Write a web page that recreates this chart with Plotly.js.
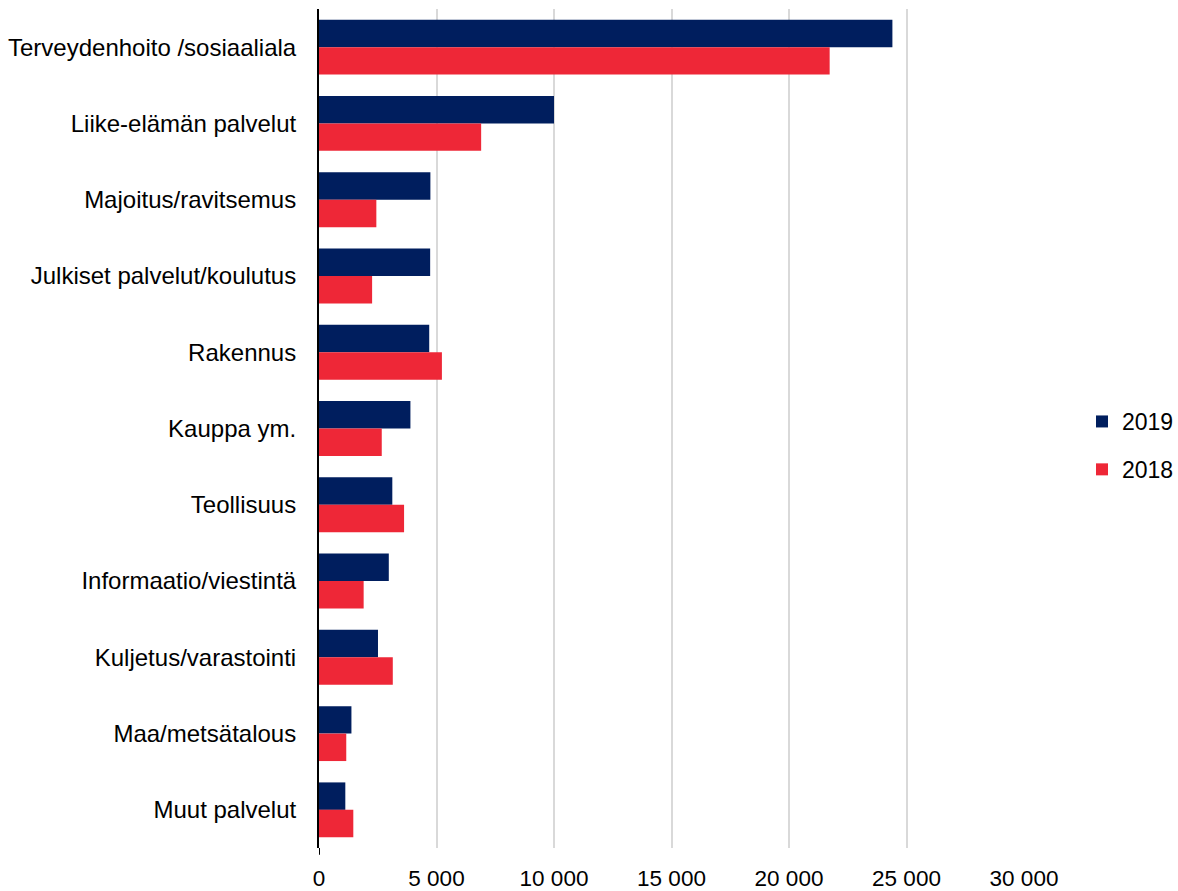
<!DOCTYPE html>
<html>
<head>
<meta charset="utf-8">
<script src="https://cdn.plot.ly/plotly-3.0.1.min.js"></script>
<style>html,body{margin:0;padding:0;background:#fff;}#chart{width:1178px;height:891px;}</style>
</head>
<body>
<div id="chart"></div>
<script>
const categories = ["Terveydenhoito /sosiaaliala","Liike-elämän palvelut","Majoitus/ravitsemus","Julkiset palvelut/koulutus","Rakennus","Kauppa ym.","Teollisuus","Informaatio/viestintä","Kuljetus/varastointi","Maa/metsätalous","Muut palvelut"];
const values2019 = [24400,10000,4740,4730,4690,3890,3120,2970,2510,1380,1120];
const values2018 = [21730,6900,2440,2260,5230,2670,3620,1900,3140,1160,1460];
const xTicks = [0,5000,10000,15000,20000,25000,30000];

const font = {family: "Liberation Sans, Arial, sans-serif", size: 22.5, color: "#000"};
const catFont = {family: "Liberation Sans, Arial, sans-serif", size: 24, color: "#000"};
const legFont = {family: "Liberation Sans, Arial, sans-serif", size: 23, color: "#000"};
const traces = [
  {type:"bar", orientation:"h", name:"2019", legendgroup:"a", y:categories, x:values2019, marker:{color:"#001e5e"}},
  {type:"bar", orientation:"h", name:"2018", legendgroup:"b", y:categories, x:values2018, marker:{color:"#ee2737"}}
];
const layout = {
  width:1178, height:891,
  margin:{l:319, r:154, t:9, b:43, autoexpand:false},
  paper_bgcolor:"#fff", plot_bgcolor:"#fff",
  font: font,
  separators: ", ",
  barmode:"group", bargap:0.28, bargroupgap:0,
  showlegend:true,
  legend:{xref:"container", yref:"container", x:1082/1178, xanchor:"left", y:0.5, yanchor:"middle", font:legFont, traceorder:"grouped", tracegroupgap:15},
  xaxis:{range:[0,30000], tickvals:xTicks, tickformat:",d", showgrid:true, gridcolor:"#d9d9d9", gridwidth:2, zeroline:false, showline:false, ticks:"", ticklabelstandoff:14, tickfont:font},
  yaxis:{autorange:"reversed", showline:true, linecolor:"#000", linewidth:2, ticks:"", ticklabelstandoff:16, tickfont:catFont, showgrid:false},
  shapes:[{type:"line", xref:"x", yref:"paper", x0:0, x1:0, y0:0, y1:-0.008, line:{color:"#000", width:2}}]
};
Plotly.newPlot("chart", traces, layout, {displayModeBar:false, staticPlot:true});
</script>
</body>
</html>
